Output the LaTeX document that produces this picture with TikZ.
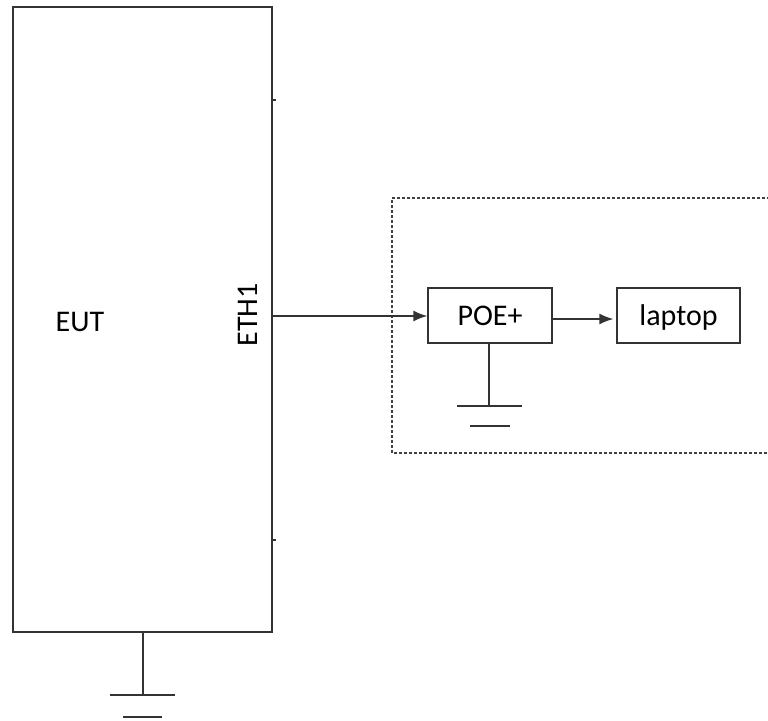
\documentclass[tikz,border=0pt]{standalone}
\usepackage{fontspec}
\setmainfont{Carlito}
\usetikzlibrary{arrows.meta}
\begin{document}
\begin{tikzpicture}[x=1pt,y=-1pt,
  wire/.style={line width=1.4pt,draw=black!80},
  box/.style={draw=black!80,line width=1.4pt,inner sep=0pt,text depth=0pt,font=\fontsize{30}{34}\selectfont},
  arr/.style={wire,-{Latex[length=14pt,width=11pt]}},
  lbl/.style={inner sep=0pt,text depth=0pt,font=\fontsize{30}{34}\selectfont}]
\useasboundingbox (0,0) rectangle (768,720);
% EUT
\node[box,minimum width=259pt,minimum height=625pt] (eut) at (142.5,319.5) {};
\node[lbl] (euttxt) at (80,322) {EUT};
\node[lbl,rotate=90] (eth) at (248,315) {ETH1};
\coordinate (t1) at (272,100); \coordinate (t1e) at (276,100);
\coordinate (t2) at (272,540); \coordinate (t2e) at (276,540);
\draw[wire] (t1) -- (t1e);
\draw[wire] (t2) -- (t2e);
% EUT ground
\coordinate (g1) at (143,632); \coordinate (g1b) at (143,695);
\coordinate (g1l) at (110,695); \coordinate (g1r) at (175,695);
\coordinate (g1sl) at (123,717); \coordinate (g1sr) at (162,717);
\draw[wire] (g1) -- (g1b);
\draw[wire] (g1l) -- (g1r);
\draw[wire] (g1sl) -- (g1sr);
% dashed area
\draw[draw=black!75,line width=1.2pt,dash pattern=on 3pt off 2pt] (775,198) -- (392,198) -- (392,453) -- (775,453);
% boxes
\node[box,minimum width=124pt,minimum height=55pt] (poe) at (490,315.5) {POE+};
\node[box,minimum width=123pt,minimum height=55pt] (lap) at (678.5,315.5) {laptop};
\coordinate (ethout) at (272,316);
\coordinate (pout) at (552,319);
\draw[arr] (ethout) -- (poe.west |- ethout);
\draw[arr,shorten >=3pt] (pout) -- (lap.west |- pout);
% POE ground
\coordinate (g2b) at (489,406);
\coordinate (g2l) at (457,406); \coordinate (g2r) at (522,406);
\coordinate (g2sl) at (470,426); \coordinate (g2sr) at (510,426);
\draw[wire] (poe.south -| g2b) -- (g2b);
\draw[wire] (g2l) -- (g2r);
\draw[wire] (g2sl) -- (g2sr);
\end{tikzpicture}
\end{document}
